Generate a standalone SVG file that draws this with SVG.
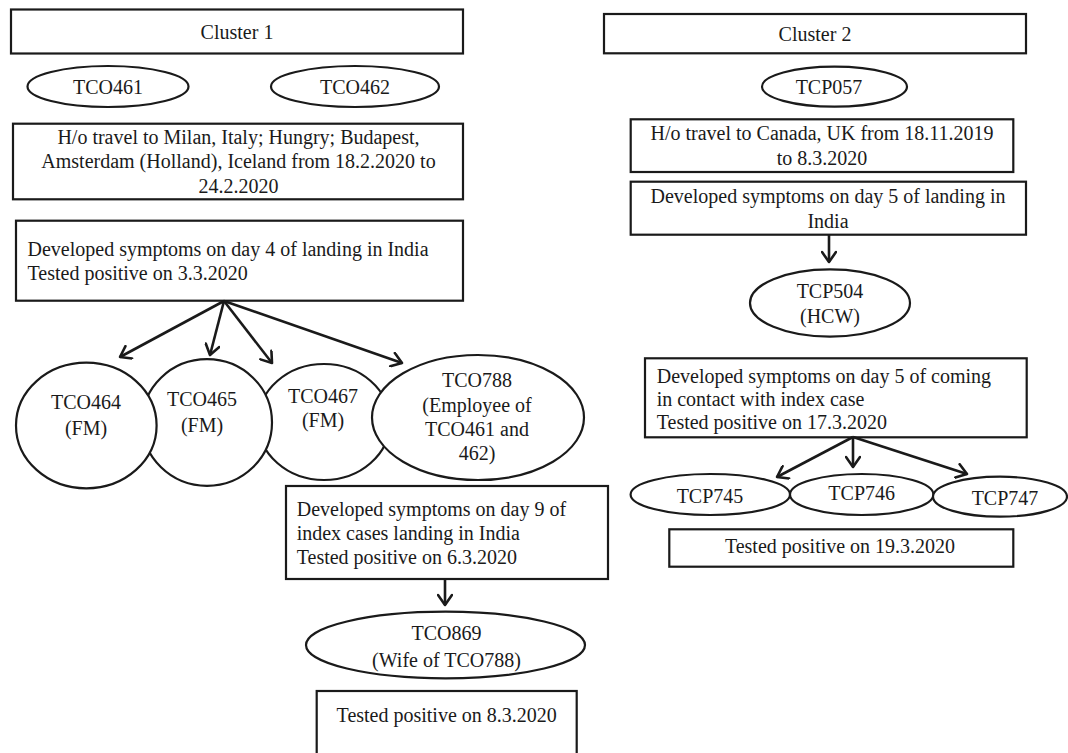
<svg xmlns="http://www.w3.org/2000/svg" width="1068" height="753" viewBox="0 0 1068 753">
<style>
.box{fill:#fff;stroke:#1a1a1a;stroke-width:2.2}
.ell{fill:#fff;stroke:#1a1a1a;stroke-width:2.2}
.t{font-family:"Liberation Serif","Times New Roman",serif;font-size:20px;fill:#1a1a1a}
.c{text-anchor:middle}
.conn{fill:none;stroke:#1a1a1a;stroke-width:2.6;marker-end:url(#arr)}
</style>
<defs>
<marker id="arr" viewBox="0 0 14 16" refX="12" refY="8" markerWidth="14" markerHeight="16" orient="auto" markerUnits="userSpaceOnUse">
<path d="M2,1 L12,8 L2,15" fill="none" stroke="#1a1a1a" stroke-width="2.6" stroke-linecap="round" stroke-linejoin="round"/>
</marker>
</defs>
<rect width="1068" height="753" fill="#fff"/>

<g id="cluster1">
<rect class="box" x="11" y="9.5" width="452" height="44"/>
<text class="t c" x="237" y="38.5">Cluster 1</text>
</g>
<g id="TCO461">
<ellipse class="ell" cx="108" cy="86.5" rx="80.5" ry="20.5"/>
<text class="t c" x="108" y="94">TCO461</text>
</g>
<g id="TCO462">
<ellipse class="ell" cx="355" cy="86.5" rx="84" ry="20.5"/>
<text class="t c" x="355" y="94">TCO462</text>
</g>
<g id="travel1">
<rect class="box" x="13" y="123.7" width="450" height="75.6"/>
<text class="t c" x="238.5" y="144">H/o travel to Milan, Italy; Hungry; Budapest,</text>
<text class="t c" x="238.5" y="168.3">Amsterdam (Holland), Iceland from 18.2.2020 to</text>
<text class="t c" x="238.5" y="192.5">24.2.2020</text>
</g>
<g id="symptoms1">
<rect class="box" x="16" y="220.7" width="447" height="80"/>
<text class="t" x="27.5" y="256">Developed symptoms on day 4 of landing in India</text>
<text class="t" x="27.5" y="280">Tested positive on 3.3.2020</text>
</g>
<g id="TCO467">
<ellipse class="ell" cx="324" cy="422" rx="66" ry="58"/>
<text class="t c" x="323" y="403.3">TCO467</text>
<text class="t c" x="323" y="427.3">(FM)</text>
</g>
<g id="TCO465">
<ellipse class="ell" cx="207" cy="422.5" rx="65" ry="63.3"/>
<text class="t c" x="202" y="406">TCO465</text>
<text class="t c" x="202" y="431.7">(FM)</text>
</g>
<g id="TCO464">
<ellipse class="ell" cx="86.3" cy="425.5" rx="70.3" ry="62.8"/>
<text class="t c" x="86" y="409.3">TCO464</text>
<text class="t c" x="86" y="435">(FM)</text>
</g>
<g id="TCO788">
<ellipse class="ell" cx="478" cy="417.5" rx="106" ry="62.5"/>
<text class="t c" x="477" y="386.7">TCO788</text>
<text class="t c" x="477" y="411.7">(Employee of</text>
<text class="t c" x="477" y="436">TCO461 and</text>
<text class="t c" x="477" y="460">462)</text>
</g>
<g id="symptoms9">
<rect class="box" x="286" y="486" width="322" height="93"/>
<text class="t" x="296.7" y="516">Developed symptoms on day 9 of</text>
<text class="t" x="296.7" y="540">index cases landing in India</text>
<text class="t" x="296.7" y="564">Tested positive on 6.3.2020</text>
</g>
<g id="TCO869">
<ellipse class="ell" cx="445.5" cy="645" rx="139.5" ry="33.3"/>
<text class="t c" x="446.5" y="640">TCO869</text>
<text class="t c" x="446.5" y="666.7">(Wife of TCO788)</text>
</g>
<g id="tested8">
<rect class="box" x="316.7" y="691" width="260" height="80"/>
<text class="t c" x="446.7" y="721.7">Tested positive on 8.3.2020</text>
</g>

<g id="cluster2">
<rect class="box" x="604" y="14" width="422" height="39.3"/>
<text class="t c" x="815" y="40.5">Cluster 2</text>
</g>
<g id="TCP057">
<ellipse class="ell" cx="834.5" cy="86.7" rx="72.5" ry="20"/>
<text class="t c" x="829" y="94">TCP057</text>
</g>
<g id="travel2">
<rect class="box" x="630.7" y="119.3" width="382.6" height="52.7"/>
<text class="t c" x="822" y="140">H/o travel to Canada, UK from 18.11.2019</text>
<text class="t c" x="822" y="165">to 8.3.2020</text>
</g>
<g id="symptoms5">
<rect class="box" x="630.7" y="181.7" width="395.3" height="53"/>
<text class="t c" x="828" y="203.3">Developed symptoms on day 5 of landing in</text>
<text class="t c" x="828" y="228">India</text>
</g>
<g id="TCP504">
<ellipse class="ell" cx="830" cy="303" rx="80" ry="33.7"/>
<text class="t c" x="830" y="298.3">TCP504</text>
<text class="t c" x="830" y="323.3">(HCW)</text>
</g>
<g id="contact">
<rect class="box" x="645" y="358.3" width="381.7" height="79"/>
<text class="t" x="656.7" y="383.3">Developed symptoms on day 5 of coming</text>
<text class="t" x="656.7" y="406">in contact with index case</text>
<text class="t" x="656.7" y="429">Tested positive on 17.3.2020</text>
</g>
<g id="TCP745">
<ellipse class="ell" cx="710.3" cy="494.5" rx="79.7" ry="20.5"/>
<text class="t c" x="710" y="502.7">TCP745</text>
</g>
<g id="TCP746">
<ellipse class="ell" cx="861.7" cy="494.5" rx="71.7" ry="20.5"/>
<text class="t c" x="861.7" y="500">TCP746</text>
</g>
<g id="TCP747">
<ellipse class="ell" cx="1000" cy="496.7" rx="67" ry="20"/>
<text class="t c" x="1005" y="505">TCP747</text>
</g>
<g id="tested19">
<rect class="box" x="669.3" y="529.3" width="344" height="37.4"/>
<text class="t c" x="840" y="553.3">Tested positive on 19.3.2020</text>
</g>

<g id="connectors">
<path class="conn" d="M224,301 L120,357"/>
<path class="conn" d="M224,301 L210,355"/>
<path class="conn" d="M224,301 L272,363"/>
<path class="conn" d="M224,301 L402,363"/>
<path class="conn" d="M445,579 L445,605"/>
<path class="conn" d="M829,235 L829,262"/>
<path class="conn" d="M853,437 L777,477"/>
<path class="conn" d="M853,437 L853,467"/>
<path class="conn" d="M853,437 L967,474"/>
</g>
</svg>
